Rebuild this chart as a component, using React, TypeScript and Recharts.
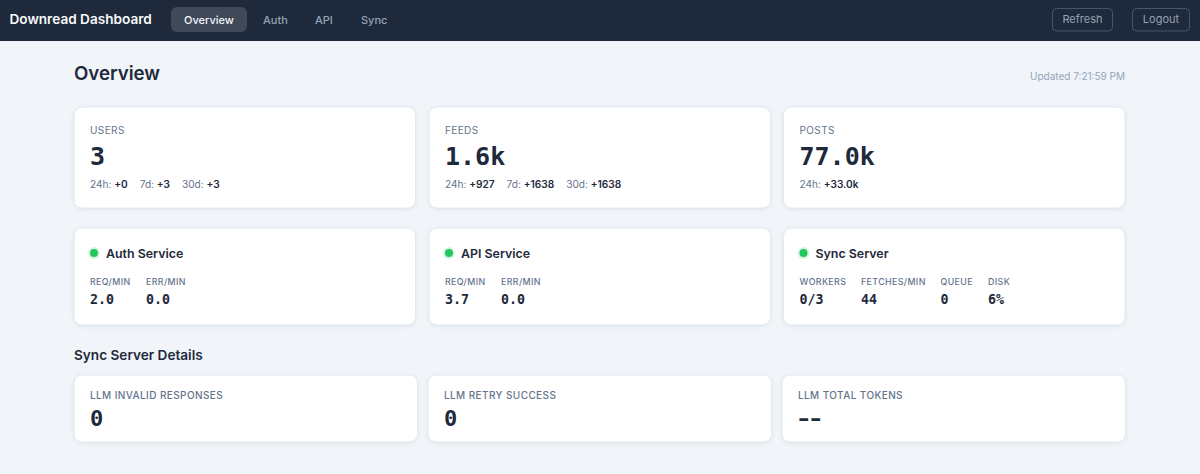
import { Surface, Rectangle, Dot, Text } from 'recharts';

// values
const navTabs = ['Overview', 'Auth', 'API', 'Sync'];
const navTabX = [184, 263, 315, 361];
const statTitles = ['USERS', 'FEEDS', 'POSTS'];
const statValues = ['3', '1.6k', '77.0k'];
const statPeriods = [['24h', '7d', '30d'], ['24h', '7d', '30d'], ['24h']];
const statDeltas = [['+0', '+3', '+3'], ['+927', '+1638', '+1638'], ['+33.0k']];
const serviceNames = ['Auth Service', 'API Service', 'Sync Server'];
const serviceLabels = [['REQ/MIN', 'ERR/MIN'], ['REQ/MIN', 'ERR/MIN'], ['WORKERS', 'FETCHES/MIN', 'QUEUE', 'DISK']];
const serviceValues = [['2.0', '0.0'], ['3.7', '0.0'], ['0/3', '44', '0', '6%']];
const serviceColX = [[0, 56], [0, 56], [0, 61.5, 141, 188.5]];
const detailTitles = ['LLM INVALID RESPONSES', 'LLM RETRY SUCCESS', 'LLM TOTAL TOKENS'];
const detailValues = ['0', '0', '--'];

const W = 1200;
const H = 474;
const SANS = 'Inter, sans-serif';
const MONO = '"DejaVu Sans Mono", monospace';
const DARK = '#1e293b';
const MUTED = '#64748b';
const SOFT = '#94a3b8';

const topCardX = [74, 429, 783.5];
const topCardW = 341.5;
const detailCardX = [74, 428, 782];
const detailCardW = 343.5;

function Card({ x, y, w, h }: { x: number; y: number; w: number; h: number }) {
  return (
    <Rectangle
      x={x}
      y={y}
      width={w}
      height={h}
      radius={8}
      fill="#fff"
      stroke="#e2e8f0"
      style={{ filter: 'drop-shadow(0 1px 2px rgba(15,23,42,0.07))' }}
    />
  );
}

export default function App() {
  return (
    <div style={{ position: 'absolute', left: 0, top: 0, width: W, height: H, overflow: 'hidden' }}>
      <Surface width={W} height={H} viewBox={{ x: 0, y: 0, width: W, height: H }}>
        <Rectangle x={0} y={0} width={W} height={H} fill="#f1f5f9" />

        {/* nav bar */}
        <Rectangle x={0} y={0} width={W} height={41} fill={DARK} />
        <Text x={9.5} y={24} fontFamily={SANS} fontSize={13.6} fontWeight={600} fill="#f8fafc">Downread Dashboard</Text>
        <Rectangle x={171} y={7} width={76} height={25} radius={6} fill="#3f4958" />
        {navTabs.map((t, i) => (
          <Text key={t} x={navTabX[i]} y={24} fontFamily={SANS} fontSize={11} fontWeight={500} fill={i === 0 ? '#f1f5f9' : SOFT}>{t}</Text>
        ))}
        <Rectangle x={1052.5} y={8.5} width={60} height={22.5} radius={4} fill="none" stroke="#475569" />
        <Text x={1082.5} y={23} textAnchor="middle" fontFamily={SANS} fontSize={11} fill={SOFT}>Refresh</Text>
        <Rectangle x={1132.5} y={8.5} width={57} height={22.5} radius={4} fill="none" stroke="#475569" />
        <Text x={1161} y={23} textAnchor="middle" fontFamily={SANS} fontSize={11} fill={SOFT}>Logout</Text>

        {/* page heading */}
        <Text x={74} y={80} fontFamily={SANS} fontSize={18.7} fontWeight={600} fill={DARK}>Overview</Text>
        <Text x={1125} y={80} textAnchor="end" fontFamily={SANS} fontSize={10} fill={SOFT}>Updated 7:21:59 PM</Text>

        {/* totals */}
        {statTitles.map((t, i) => {
          const x = topCardX[i];
          return (
            <g key={t}>
              <Card x={x} y={107} w={topCardW} h={101} />
              <Text x={x + 16} y={134} fontFamily={SANS} fontSize={10} letterSpacing={0.4} fill={MUTED}>{t}</Text>
              <Text x={x + 16} y={165} fontFamily={MONO} fontSize={25} fontWeight={700} fill={DARK}>{statValues[i]}</Text>
              <text x={x + 16} y={188} fontFamily={SANS} fontSize={10.1}>
                {statPeriods[i].map((p, j) => (
                  <tspan key={p}>
                    <tspan fill={MUTED} dx={j ? 12 : 0}>{p}: </tspan>
                    <tspan fill={DARK} fontWeight={600}>{statDeltas[i][j]}</tspan>
                  </tspan>
                ))}
              </text>
            </g>
          );
        })}

        {/* services */}
        {serviceNames.map((name, i) => {
          const x = topCardX[i];
          return (
            <g key={name}>
              <Card x={x} y={228} w={topCardW} h={97} />
              <Dot cx={x + 20} cy={253} r={6} fill="#22c55e" fillOpacity={0.18} />
              <Dot cx={x + 20} cy={253} r={4} fill="#22c55e" />
              <Text x={x + 32} y={258} fontFamily={SANS} fontSize={12.4} fontWeight={600} fill={DARK}>{name}</Text>
              {serviceLabels[i].map((label, j) => (
                <g key={label}>
                  <Text x={x + 16 + serviceColX[i][j]} y={285} fontFamily={SANS} fontSize={8.8} letterSpacing={0.4} fontWeight={500} fill={MUTED}>{label}</Text>
                  <Text x={x + 16 + serviceColX[i][j]} y={304} fontFamily={MONO} fontSize={13.3} fontWeight={700} fill={DARK}>{serviceValues[i][j]}</Text>
                </g>
              ))}
            </g>
          );
        })}

        {/* sync details */}
        <Text x={74} y={360} fontFamily={SANS} fontSize={13.6} fontWeight={600} fill={DARK}>Sync Server Details</Text>
        {detailTitles.map((t, i) => {
          const x = detailCardX[i];
          const isEmpty = detailValues[i] === '--';
          return (
            <g key={t}>
              <Card x={x} y={375} w={detailCardW} h={67} />
              <Text x={x + 16} y={399} fontFamily={SANS} fontSize={10} letterSpacing={0.4} fontWeight={500} fill={MUTED}>{t}</Text>
              {/* the installed mono dash is too short, so stretch it sideways */}
              <g transform={isEmpty ? `translate(${x + 12.5} 425) scale(1.4 1)` : `translate(${x + 16} 426)`}>
                <Text
                  x={0}
                  y={0}
                  fontFamily={isEmpty ? '"Liberation Mono", monospace' : MONO}
                  fontSize={22}
                  fontWeight={700}
                  letterSpacing={isEmpty ? -4.6 : 0}
                  fill={DARK}
                >
                  {detailValues[i]}
                </Text>
              </g>
            </g>
          );
        })}
      </Surface>
    </div>
  );
}
